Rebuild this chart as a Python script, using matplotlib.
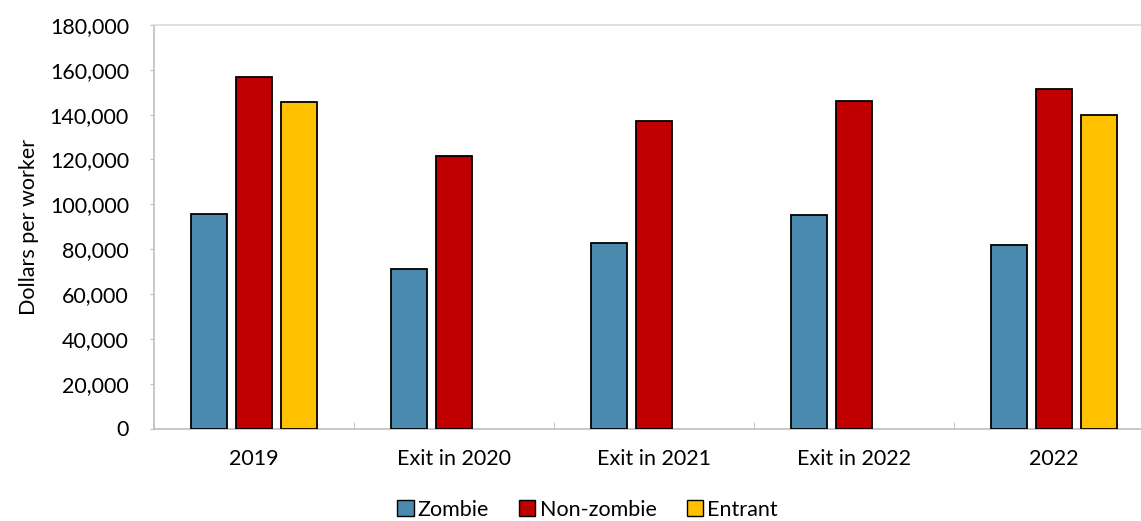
import matplotlib.pyplot as plt
import numpy as np
from matplotlib.patches import Patch
from matplotlib.ticker import FuncFormatter

plt.rcParams['font.family'] = ['Lato', 'DejaVu Sans']

# data
categories = ['2019', 'Exit in 2020', 'Exit in 2021', 'Exit in 2022', '2022']
zombie = [95700, 71000, 82600, 95200, 82000]
non_zombie = [157000, 121700, 137300, 146100, 151600]
entrant = [145700, np.nan, np.nan, np.nan, 139900]

series = [('Zombie', zombie, '#4A8AAE'),
          ('Non-zombie', non_zombie, '#C00000'),
          ('Entrant', entrant, '#FFC000')]

fig = plt.figure(figsize=(11.41, 5.21), dpi=100)
ax = fig.add_axes([154 / 1141, 1 - 428.5 / 521, 1000 / 1141, 403.5 / 521])

x = np.arange(len(categories))
offset = 0.2235
width = 0.18
for i, (name, vals, col) in enumerate(series):
    ax.bar(x + (i - 1) * offset, vals, width, color=col, edgecolor='black',
           linewidth=1.3, label=name, zorder=3)

fs = 15.5
ax.set_xlim(-0.5, len(categories) - 0.5)
ax.set_ylim(0, 180000)
ax.set_yticks(np.arange(0, 180001, 20000))
ax.yaxis.set_major_formatter(FuncFormatter(lambda v, p: f'{int(v):,}'))
ax.tick_params(axis='y', direction='out', length=3, color='#bfbfbf',
               labelsize=fs, pad=15)

ax.set_xticks(x)
ax.set_xticklabels(categories)
ax.tick_params(axis='x', length=0, labelsize=fs, pad=15)
ax.set_xticks(np.arange(-0.5, len(categories), 1), minor=True)
ax.tick_params(axis='x', which='minor', direction='in', length=5, color='#bfbfbf')

for side in ['left', 'bottom']:
    ax.spines[side].set_color('#bfbfbf')
    ax.spines[side].set_linewidth(1.2)
ax.spines['top'].set_color('#d9d9d9')
ax.spines['top'].set_linewidth(1.2)
ax.spines['right'].set_visible(False)

ax.set_ylabel('Dollars per worker', fontsize=fs, labelpad=8)

handles = [Patch(facecolor=c, edgecolor='black', linewidth=1.0, label=n)
           for n, _, c in series]
fig.legend(handles=handles, loc='lower center', ncol=3, frameon=False,
           fontsize=fs, bbox_to_anchor=(0.515, -0.035),
           handlelength=0.75, handleheight=0.75, handletextpad=0.2,
           columnspacing=1.4)

fig.savefig('out.png', dpi=100, facecolor='white')
